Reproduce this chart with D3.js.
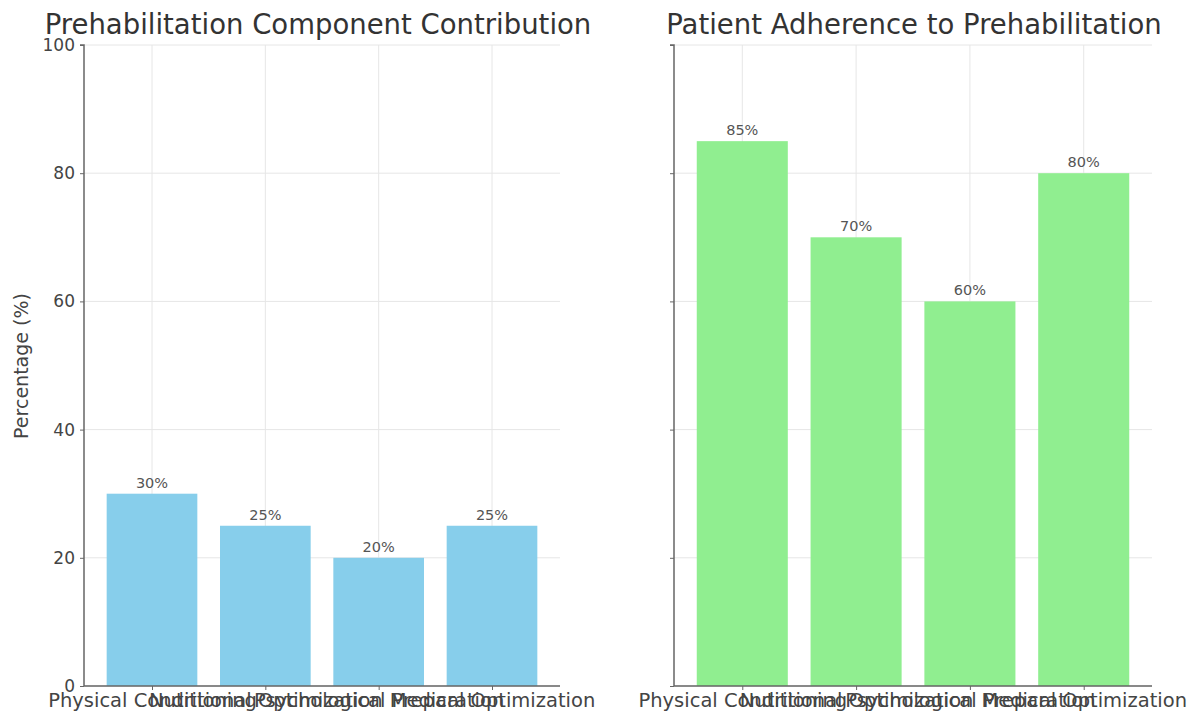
<!DOCTYPE html>
<html><head><meta charset="utf-8">
<script src="https://cdn.jsdelivr.net/npm/d3@7"></script>
<style>body{margin:0;background:#fff;} text{font-family:"DejaVu Sans",sans-serif;}</style>
</head><body>
<svg id="c" width="1200" height="713"></svg>
<script>
const categories = ["Physical Conditioning","Nutritional Optimization","Psychological Preparation","Medical Optimization"];
const contribution = [30,25,20,25];
const adherence = [85,70,60,80];
const yTicks = [0,20,40,60,80,100];
const titles = ["Prehabilitation Component Contribution","Patient Adherence to Prehabilitation"];

(function(){
const svg = d3.select("#c");
const yTop = 45, yBot = 686;
const y = d3.scaleLinear().domain([0,100]).range([yBot, yTop]);
const panels = [
  {x0:84, x1:560, data:contribution, color:"#87CEEB", title:titles[0], labels:true},
  {x0:674, x1:1152, data:adherence, color:"#90EE90", title:titles[1], labels:false}
];
panels.forEach(p => {
  const g = svg.append("g");
  const x = d3.scaleLinear().domain([-0.6, 3.6]).range([p.x0, p.x1]);
  g.selectAll(".hg").data(yTicks).enter().append("line")
    .attr("x1",p.x0).attr("x2",p.x1).attr("y1",d=>y(d)).attr("y2",d=>y(d))
    .attr("stroke","#e6e6e6").attr("stroke-width",1);
  g.selectAll(".vg").data(categories).enter().append("line")
    .attr("x1",(d,i)=>x(i)).attr("x2",(d,i)=>x(i)).attr("y1",yTop).attr("y2",yBot)
    .attr("stroke","#e6e6e6").attr("stroke-width",1);
  g.selectAll(".bar").data(p.data).enter().append("rect")
    .attr("x",(d,i)=>x(i-0.4)).attr("width",(d,i)=>x(i+0.4)-x(i-0.4))
    .attr("y",d=>y(d)).attr("height",d=>y(0)-y(d)).attr("fill",p.color);
  g.selectAll(".bl").data(p.data).enter().append("text")
    .attr("x",(d,i)=>x(i)).attr("y",d=>y(d)-6).attr("text-anchor","middle")
    .attr("font-size",14.5).attr("fill","#555").text(d=>d+"%");
  const ya = d3.axisLeft(y).tickValues(yTicks).tickSize(4).tickPadding(5);
  if(!p.labels) ya.tickFormat("");
  const yg = g.append("g").attr("transform",`translate(${p.x0},0)`).call(ya);
  yg.select(".domain").attr("stroke","#666").attr("stroke-width",1.5).attr("d",`M-4,${yTop}H0V${yBot}`);
  yg.selectAll(".tick line").attr("stroke","#666");
  yg.selectAll("text").attr("font-size",17).attr("fill","#444").attr("font-family","DejaVu Sans");
  const xa = d3.axisBottom(x).tickValues(categories.map((d,i)=>i)).tickFormat(i=>categories[i]).tickSize(4).tickPadding(3);
  const xg = g.append("g").attr("transform",`translate(0,${yBot})`).call(xa);
  xg.select(".domain").attr("stroke","#666").attr("stroke-width",1.5).attr("d",`M${p.x0},0H${p.x1}`);
  xg.selectAll(".tick line").attr("stroke","#666");
  xg.selectAll("text").attr("font-size",19.5).attr("fill","#444").attr("font-family","DejaVu Sans");
  g.append("text").attr("x",(p.x0+p.x1)/2 + (p.labels?-4:1)).attr("y",34).attr("text-anchor","middle")
    .attr("font-size",27.5).attr("fill","#333").text(p.title);
});
svg.append("text").attr("transform","translate(28,366) rotate(-90)").attr("text-anchor","middle")
  .attr("font-size",19).attr("fill","#444").text("Percentage (%)");
})();
</script>
</body></html>
